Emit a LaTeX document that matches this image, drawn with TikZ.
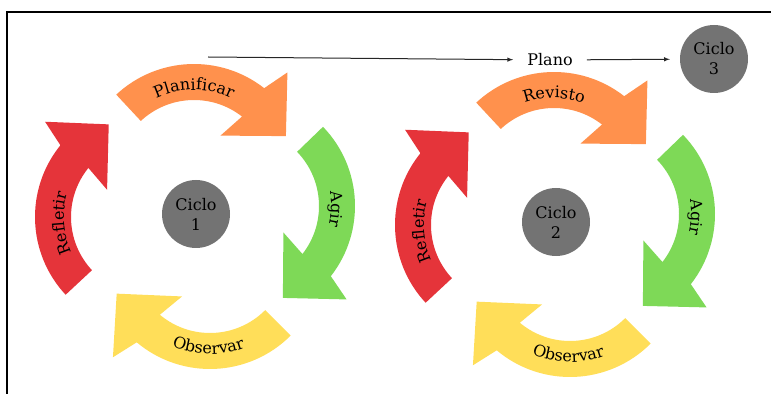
\documentclass[tikz,border=0pt]{standalone}
\usepackage{fontspec}
\setmainfont{DejaVu Serif}
\usetikzlibrary{calc,positioning,arrows.meta,decorations.text}

\definecolor{planc}{HTML}{FF914D}
\definecolor{agirc}{HTML}{7ED957}
\definecolor{obsc}{HTML}{FFDE59}
\definecolor{refc}{HTML}{E5343A}
\definecolor{cicloc}{HTML}{737373}
\newcommand\lblfont{\fontsize{16}{19}\selectfont}

\begin{document}
\begin{tikzpicture}[
  x=1pt, y=1pt,
  ciclo/.style={circle, fill=cicloc, minimum size=68pt, inner sep=0pt, align=center, font=\fontsize{16}{20}\selectfont},
  lbl/.style={font=\lblfont},
  link/.style={-latex, line width=1pt, color=black!85},
  ]
  \useasboundingbox (0,0) rectangle (771,394);
  \draw[line width=1.7pt] (771,382) -- (7,382) -- (7,0);

  \foreach \sx/\sy/\n/\first in {0/0/1/Planificar, 360/-8/2/Revisto}
  {
    \begin{scope}[shift={(\sx,\sy)}]
      % arrows: centre x/y, tail angle, head angle, colour
      \foreach \cx/\cy/\a/\b/\col in {194/216/133/52/planc, 241/188/44/-38/agirc, 210/139/-45/-130/obsc, 149/177/223/141/refc}
      {
        \begin{scope}[shift={(\cx,\cy)}]
          \fill[\col] (\a:114) arc[start angle=\a, end angle=\b, radius=114]
            -- (\b-3.5:141) -- (\b-27.5:101) -- (\b+6:50)
            -- (\b:78) arc[start angle=\b, end angle=\a, radius=78] -- cycle;
        \end{scope}
      }
      \node (ciclo_\n) [ciclo] at (196,180) {Ciclo\\\n};

      \path[decorate, decoration={text along path, text align=center, text={|\lblfont|\first}}]
        ($(194,216)+(130:88)$) arc[start angle=130, end angle=50, radius=88];
      \path[decorate, decoration={text along path, text align=center, text={|\lblfont|Agir}}]
        ($(241,188)+(38:90)$) arc[start angle=38, end angle=-42, radius=90];
      \path[decorate, decoration={text along path, text align=center, text={|\lblfont|Observar}}]
        ($(210,139)+(-131:99)$) arc[start angle=-131, end angle=-51, radius=99];
      \path[decorate, decoration={text along path, text align=center, text={|\lblfont|Refletir}}]
        ($(149,177)+(224:85)$) arc[start angle=224, end angle=144, radius=85];
    \end{scope}
  }

  \coordinate (inicio) at (208,337);
  \node (plano) [lbl, inner xsep=14pt] at (550,334) {Plano};
  \node (ciclo_3) [ciclo] at (714,335) {Ciclo\\3};

  \draw[link] (inicio) -- (plano);
  \draw[link, shorten >=10pt] (plano) -- (ciclo_3);

\end{tikzpicture}
\end{document}
